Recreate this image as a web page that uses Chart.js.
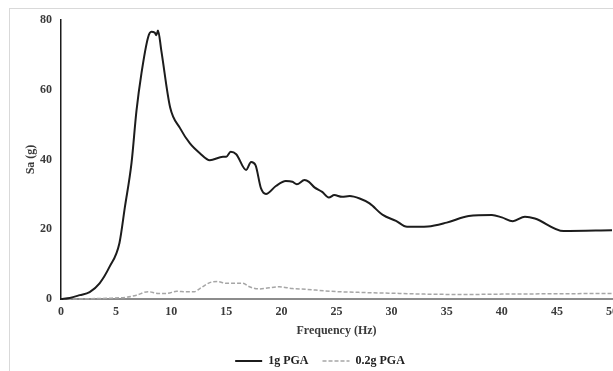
<!DOCTYPE html>
<html>
<head>
<meta charset="utf-8">
<script src="https://cdn.jsdelivr.net/npm/chart.js@4.4.1/dist/chart.umd.min.js"></script>
<style>
  html, body { margin: 0; padding: 0; background: #fff; overflow: hidden; }
  #frame { position: absolute; left: 9px; top: 8px; width: 700px; height: 500px;
           border-top: 1px solid #d9d9d9; border-left: 1px solid #d9d9d9; }
  #wrap { position: absolute; left: 0; top: 0; width: 640px; height: 371px; }
</style>
</head>
<body>
<div id="frame"></div>
<div id="wrap"><canvas id="chart" width="640" height="371"></canvas></div>
<script>
// response spectrum, 1g PGA
var freq1g = [0, 0.8, 1.7, 2.6, 3.5, 4.4, 5.3, 5.8, 6.4, 6.85, 7.3, 7.9, 8.2, 8.5, 8.65, 8.8, 9.1, 9.9,
  10.8, 11.7, 12.6, 13.5, 14.7, 15.0, 15.4, 15.9, 16.8, 17.25, 17.65, 18.15, 18.6, 19.5, 20.4, 21.0,
  21.4, 22.1, 22.5, 23.0, 23.7, 24.3, 24.8, 25.5, 26.2, 27.1, 28.0, 29.2, 30.4, 31.4, 33.3, 35,
  37.0, 39.1, 40.0, 41.0, 42.1, 43.0, 45.6, 50];
var sa1g = [0, 0.3, 1.1, 2.0, 4.5, 9.2, 16, 26.4, 39, 54, 64.7, 75, 76.6, 76.4, 75.6, 77, 71.3, 55,
  49, 44.6, 41.8, 39.8, 40.8, 40.8, 42.2, 41.5, 37, 39.3, 38.4, 31.7, 30.1, 32.4, 33.8, 33.6,
  32.9, 34.1, 33.6, 32, 30.7, 29.1, 29.8, 29.3, 29.5, 28.8, 27.4, 24.1, 22.4, 20.7, 20.8, 21.9,
  23.8, 24.1, 23.4, 22.3, 23.6, 23.1, 19.5, 19.7];

// response spectrum, 0.2g PGA
var freq02g = [0, 2, 4.1, 5.9, 6.85, 7.9, 8.8, 9.6, 10.5, 11.3, 12.1, 12.6, 13.5, 14.2, 15.0, 16.5,
  17.1, 18.0, 19.8, 21.0, 22.2, 24.0, 25.2, 27, 30.7, 33, 36.7, 40, 45, 50];
var sa02g = [0, 0.05, 0.2, 0.5, 1.1, 2.1, 1.6, 1.6, 2.2, 2.1, 2.1, 3.0, 4.7, 5.0, 4.5, 4.5,
  3.5, 2.9, 3.5, 3.0, 2.8, 2.3, 2.1, 1.9, 1.6, 1.4, 1.3, 1.4, 1.5, 1.6];

var seriesNames = ['1g PGA', '0.2g PGA'];
var xTicks = {min: 0, max: 50, step: 5};
var yTicks = {min: 0, max: 80, step: 20};

var toXY = function(xs, ys){ return xs.map((x, i) => ({x: x, y: ys[i]})) }

var txtFont = {family: "'Liberation Serif', 'Times New Roman', serif", size: 12, weight: 'bold'};
var txtColor = '#3a3a3a';

// keep the legend band a fixed height
var legendHeight = {
  id: 'legendHeight',
  beforeLayout: function(chart){
    var lg = chart.legend;
    if(lg && !lg._fixed){
      var f = lg.fit;
      lg.fit = function(){ f.call(this); this.height = 30; };
      lg._fixed = true;
    }
  }
};

// legend samples take the dataset's own line style (dash, width)
var lineLabels = function(chart){
  var items = Chart.defaults.plugins.legend.labels.generateLabels(chart);
  items.forEach(function(it, i){
    var ds = chart.data.datasets[i];
    it.lineDash = ds.borderDash || [];
    it.lineWidth = ds.borderWidth;
    it.strokeStyle = ds.borderColor;
    it.fontColor = '#222';
  });
  return items;
}

new Chart(document.getElementById('chart').getContext('2d'), {
  type: 'line',
  data: {
    datasets: [{
      label: seriesNames[0],
      data: toXY(freq1g, sa1g),
      borderColor: '#1c1c1c',
      borderWidth: 2,
      pointRadius: 0,
      cubicInterpolationMode: 'monotone',
      clip: false
    }, {
      label: seriesNames[1],
      data: toXY(freq02g, sa02g),
      borderColor: '#a6a6a6',
      borderWidth: 1.5,
      borderDash: [4, 2],
      pointRadius: 0,
      cubicInterpolationMode: 'monotone',
      clip: false
    }]
  },
  options: {
    responsive: false,
    animation: false,
    layout: { padding: {top: 20, left: 0, right: 0, bottom: 0} },
    plugins: {
      tooltip: {enabled: false},
      legend: {
        position: 'bottom',
        labels: {
          usePointStyle: true,
          pointStyle: 'line',
          pointStyleWidth: 27,
          padding: 14,
          color: '#222',
          font: txtFont,
          generateLabels: lineLabels
        }
      }
    },
    scales: {
      x: {
        type: 'linear',
        min: xTicks.min, max: xTicks.max,
        grid: {display: false, drawTicks: false},
        border: {display: true, color: '#8c8c8c', width: 2},
        ticks: {stepSize: xTicks.step, padding: 6, color: txtColor, font: txtFont},
        title: {display: true, text: 'Frequency (Hz)', color: txtColor, font: txtFont, padding: {top: 0, bottom: 3}},
        // right padding leaves room so the plot stops at 612px while the legend centres on the full width
        afterFit: function(s){ s.height = 42; s.paddingLeft = 0; s.paddingRight = 28; }
      },
      y: {
        min: yTicks.min, max: yTicks.max,
        grid: {display: false, drawTicks: false},
        border: {display: true, color: '#1c1c1c', width: 1.5},
        ticks: {stepSize: yTicks.step, padding: 9, color: txtColor, font: txtFont},
        title: {display: true, text: 'Sa (g)', color: txtColor, font: txtFont, padding: {top: 24, bottom: 0}},
        afterFit: function(s){ s.width = 61; s.paddingTop = 0; s.paddingBottom = 0; }
      }
    }
  },
  plugins: [legendHeight]
});
</script>
</body>
</html>
